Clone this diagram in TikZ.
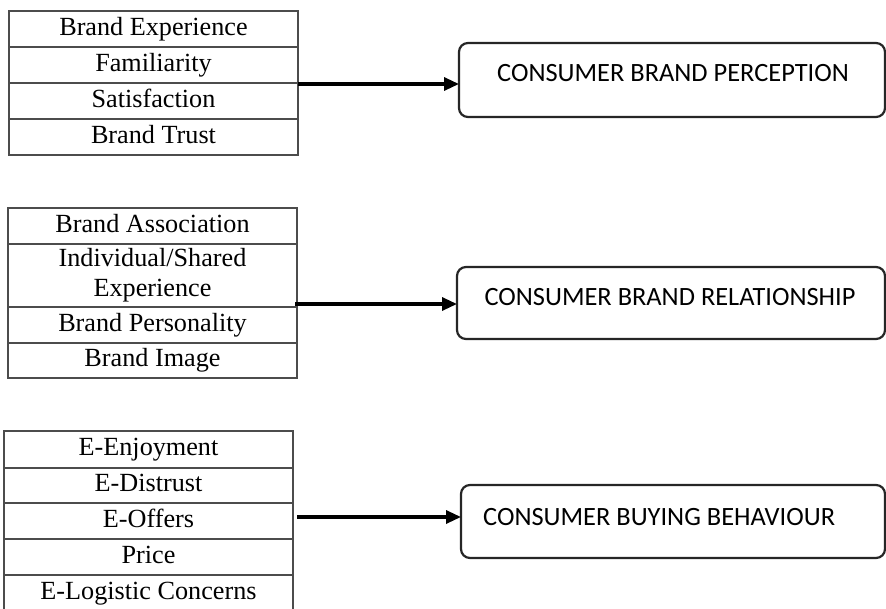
\documentclass[tikz,border=0pt]{standalone}
\usepackage{fontspec}
\setmainfont{Liberation Serif}
\newfontfamily\calibri{Carlito}
\usetikzlibrary{arrows.meta}
\begin{document}
\begin{tikzpicture}[x=1pt,y=-1pt,
 cellbase/.style={draw=black!70,line width=1.4pt,inner sep=0pt,outer sep=0pt,font=\fontsize{26.2}{30}\selectfont,align=center},
 cell/.style={cellbase,text height=17.5pt,text depth=5.5pt},
 cbox/.style={draw=black!85,line width=2.2pt,rounded corners=9pt,inner sep=0pt,outer sep=0pt,fill=white},
 ctext/.style={font=\calibri\fontsize{26.4}{30}\selectfont,inner sep=0pt},
 arr/.style={line width=3.2pt,-{Triangle[length=15pt,width=13pt]}}]
\useasboundingbox (0,0) rectangle (886,608);
% table 1
\node[cell,minimum width=289pt,minimum height=36pt] (t1a) at (153.5,29) {Brand Experience};
\node[cell,minimum width=289pt,minimum height=36pt] (t1b) at (153.5,65) {Familiarity};
\node[cell,minimum width=289pt,minimum height=36pt] (t1c) at (153.5,101) {Satisfaction};
\node[cell,minimum width=289pt,minimum height=36pt] (t1d) at (153.5,137) {Brand Trust};
% table 2
\node[cell,minimum width=289pt,minimum height=36pt] (t2a) at (152.5,226) {Brand Association};
\node[cellbase,minimum width=289pt,minimum height=63pt] (t2b) at (152.5,275.5) {Individual/Shared\\Experience};
\node[cell,minimum width=289pt,minimum height=36pt] (t2c) at (152.5,325) {Brand Personality};
\node[cell,minimum width=289pt,minimum height=35pt] (t2d) at (152.5,360.5) {Brand Image};
% table 3
\node[cell,minimum width=289pt,minimum height=37pt] (t3a) at (148.5,449.5) {E-Enjoyment};
\node[cell,minimum width=289pt,minimum height=35pt] (t3b) at (148.5,485.5) {E-Distrust};
\node[cell,minimum width=289pt,minimum height=36pt] (t3c) at (148.5,521) {E-Offers};
\node[cell,minimum width=289pt,minimum height=36pt] (t3d) at (148.5,557) {Price};
\node[cell,minimum width=289pt,minimum height=36pt] (t3e) at (148.5,593) {E-Logistic Concerns};
% boxes
\node[cbox,minimum width=426pt,minimum height=74pt] (b1) at (672,80) {};
\node[ctext] (l1) at (673,73) {CONSUMER BRAND PERCEPTION};
\node[cbox,minimum width=428pt,minimum height=72pt] (b2) at (671,303) {};
\node[ctext] (l2) at (670,297) {CONSUMER BRAND RELATIONSHIP};
\node[cbox,minimum width=424pt,minimum height=73pt] (b3) at (673,521.5) {};
\node[ctext,anchor=west] (l3) at (483,517) {CONSUMER BUYING BEHAVIOUR};
% arrows
\coordinate (a1) at (298,84);
\coordinate (a2) at (295,304);
\coordinate (a3) at (297,517);
\draw[arr] (a1) -- (a1 -| b1.west);
\draw[arr] (a2) -- (a2 -| b2.west);
\draw[arr] (a3) -- (a3 -| b3.west);
\end{tikzpicture}
\end{document}
